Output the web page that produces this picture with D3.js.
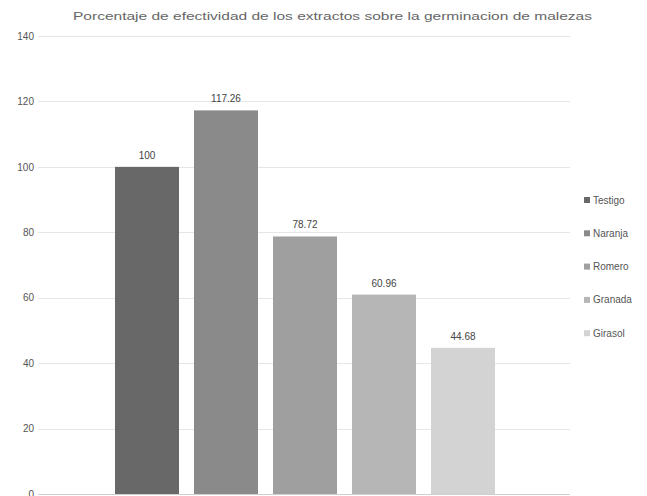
<!DOCTYPE html>
<html><head><meta charset="utf-8">
<script src="https://cdn.jsdelivr.net/npm/d3@7"></script>
<style>body{margin:0;background:#fff;}svg{display:block;font-family:"Liberation Sans",Arial,sans-serif;}</style>
</head><body>
<svg id="c" width="647" height="496"></svg>
<script>
const title = "Porcentaje de efectividad de los extractos sobre la germinacion de malezas";
const series = ["Testigo", "Naranja", "Romero", "Granada", "Girasol"];
const values = [100, 117.26, 78.72, 60.96, 44.68];
const valueLabels = ["100", "117.26", "78.72", "60.96", "44.68"];
const colors = ["#686868", "#8a8a8a", "#9f9f9f", "#b6b6b6", "#d3d3d3"];
const yTicks = [0, 20, 40, 60, 80, 100, 120, 140];

const svg = d3.select("#c");
const y = d3.scaleLinear().domain([0, 140]).range([494, 36]);
const x = d3.scaleBand().domain(series).range([107.5, 502.5]).paddingInner(0.19).paddingOuter(0.095);

// gridlines
svg.append("g").selectAll("line").data(yTicks).join("line")
  .attr("x1", 38).attr("x2", 570)
  .attr("y1", d => Math.round(y(d)) + 0.5).attr("y2", d => Math.round(y(d)) + 0.5)
  .attr("stroke", d => d === 0 ? "#cfcfcf" : "#e6e6e6").attr("stroke-width", 1);

// y axis labels
const yAxis = d3.axisLeft(y).tickValues(yTicks).tickSize(0).tickPadding(0);
const ga = svg.append("g").attr("transform", "translate(34,0)").call(yAxis);
ga.select(".domain").remove();
ga.selectAll("text").attr("font-size", 10).attr("fill", "#555").attr("font-family", "Liberation Sans, Arial, sans-serif");

// bars
svg.append("g").selectAll("rect").data(values).join("rect")
  .attr("x", (d, i) => x(series[i])).attr("width", x.bandwidth())
  .attr("y", d => y(d)).attr("height", d => y(0) - y(d))
  .attr("fill", (d, i) => colors[i]);

// value labels
svg.append("g").selectAll("text").data(values).join("text")
  .attr("x", (d, i) => x(series[i]) + x.bandwidth() / 2)
  .attr("y", d => y(d) - 8)
  .attr("text-anchor", "middle").attr("font-size", 10).attr("fill", "#444")
  .text((d, i) => valueLabels[i]);

// title
svg.append("text").attr("x", 73).attr("y", 20)
  .attr("font-size", 11).attr("fill", "#666")
  .attr("textLength", 519).attr("lengthAdjust", "spacingAndGlyphs")
  .text(title);

// legend
const lg = svg.append("g").selectAll("g").data(series).join("g")
  .attr("transform", (d, i) => `translate(584,${200 + i * 33.3})`);
lg.append("rect").attr("x", 0).attr("y", -3).attr("width", 6).attr("height", 6)
  .attr("fill", (d, i) => colors[i]);
lg.append("text").attr("x", 9).attr("y", 3.5).attr("font-size", 10).attr("fill", "#555").text(d => d);
</script>
</body></html>
